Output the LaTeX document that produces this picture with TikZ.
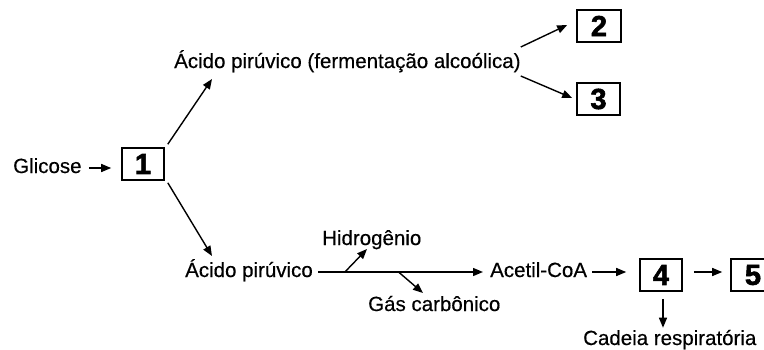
\documentclass[tikz,border=0pt]{standalone}
\usepackage{fontspec}
\setmainfont[FakeBold=0.4]{Liberation Sans}
\newfontfamily\digitfont[FakeBold=2]{Liberation Sans Bold}
\usetikzlibrary{arrows.meta}

\begin{document}
\begin{tikzpicture}[x=1pt,y=-1pt,>={Triangle[length=10pt,width=8pt]},
  lbl/.style={inner sep=0pt,anchor=base west,font=\fontsize{20.5}{24}\selectfont},
  numbox/.style={draw,line width=1.6pt,minimum width=42pt,minimum height=32pt,inner sep=0pt,font=\digitfont\fontsize{29}{32}\selectfont},
  arr/.style={->,line width=1.4pt}]
\clip (0,0) rectangle (764,349);
\fill[white] (0,0) rectangle (764,349);
% texts
\node[lbl] (glicose) at (13,173) {Glicose};
\node[lbl] (acidoA) at (174,68) {Ácido pirúvico (fermentação alcoólica)};
\node[lbl] (acidoB) at (185,277) {Ácido pirúvico};
\node[lbl] (hidro) at (322,245) {Hidrogênio};
\node[lbl] (gas) at (368,311) {Gás carbônico};
\node[lbl] (acetil) at (490,277) {Acetil-CoA};
\node[lbl] (cadeia) at (583,345) {Cadeia respiratória};
% boxes
\node[numbox] (one) at (143,164) {1};
\node[numbox,minimum width=44pt] (two) at (599,26) {2};
\node[numbox,minimum width=43pt] (three) at (598.5,99) {3};
\node[numbox] (four) at (661,275) {4};
\node[numbox,minimum width=44pt] (five) at (753,275) {5};
% arrows
\draw[arr] ([shift={(7,-5)}]glicose.base east) -- ([shift={(-10,4)}]one.west);
\draw[arr] ([shift={(3,-3)}]one.north east) -- ([shift={(38,11)}]acidoA.base west);
\draw[arr] ([shift={(3,2)}]one.south east) -- ([shift={(27,-21)}]acidoB.base west);
\draw[arr] ([shift={(0,-21)}]acidoA.base east) -- ([shift={(-9,-1)}]two.west);
\draw[arr] ([shift={(0,8)}]acidoA.base east) -- ([shift={(-4,-1)}]three.west);
\draw[arr] ([shift={(5,-5)}]acidoB.base east) -- ([shift={(-7,-5)}]acetil.base west)
  coordinate[pos=0.163] (hbr) coordinate[pos=0.488] (cbr);
\draw[arr] (hbr) -- ([shift={(45,4)}]hidro.base west);
\draw[arr] (cbr) -- ([shift={(55,-18)}]gas.base west);
\draw[arr] ([shift={(5,-5)}]acetil.base east) -- ([shift={(-13,-3)}]four.west);
\draw[arr] ([shift={(11,-3)}]four.east) -- ([shift={(-8,-3)}]five.west);
\draw[arr] ([shift={(2,7)}]four.south) -- ([shift={(2,-2)}]four.south |- cadeia.north);
\end{tikzpicture}
\end{document}
